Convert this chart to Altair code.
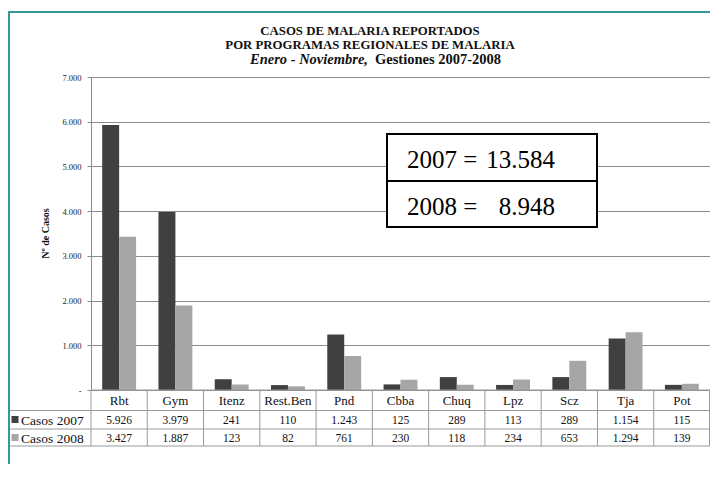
import altair as alt
import pandas as pd

# ---------------- data ----------------
categories = ["Rbt", "Gym", "Itenz", "Rest.Ben", "Pnd", "Cbba", "Chuq", "Lpz", "Scz", "Tja", "Pot"]
casos_2007 = [5926, 3979, 241, 110, 1243, 125, 289, 113, 289, 1154, 115]
casos_2008 = [3427, 1887, 123, 82, 761, 230, 118, 234, 653, 1294, 139]
series = ["Casos 2007", "Casos 2008"]
y_ticks = [0, 1000, 2000, 3000, 4000, 5000, 6000, 7000]
title_line1 = "CASOS DE MALARIA REPORTADOS"
title_line2 = "POR PROGRAMAS REGIONALES DE MALARIA"
title_line3a = "Enero - Noviembre,"
title_line3b = "Gestiones 2007-2008"
y_title = "Nº de Casos"

rows = []
for s, vals in zip(series, [casos_2007, casos_2008]):
    for c, v in zip(categories, vals):
        rows.append({"region": c, "serie": s, "casos": v})
df = pd.DataFrame(rows)
cat_df = pd.DataFrame({"region": categories})
ser_df = pd.DataFrame({"serie": series})

# ---------------- style ----------------
FONT = "'Liberation Serif', 'Times New Roman', Times, serif"
W, H = 619, 313
DARK, LIGHT = "#404040", "#a6a6a6"
GRID = "#8c8c8c"
TABLE = "#9a9a9a"
TEAL = "#339999"
LEFT, TOP = 83, 69

xscale = alt.Scale(domain=categories, paddingInner=0, paddingOuter=0)
xenc = alt.X("region:N", scale=xscale, axis=None)
color = alt.Color("serie:N", scale=alt.Scale(domain=series, range=[DARK, LIGHT]), legend=None)
fmt = "replace(format(datum.casos, ','), ',', '.')"

bars = alt.Chart(df).mark_bar().encode(
    x=xenc,
    xOffset=alt.XOffset("serie:N", scale=alt.Scale(domain=series, paddingOuter=0.66, paddingInner=0)),
    y=alt.Y(
        "casos:Q",
        scale=alt.Scale(domain=[0, 7000], nice=False),
        axis=alt.Axis(
            values=y_ticks,
            labelExpr="datum.value == 0 ? '-\u00a0\u00a0\u00a0\u00a0\u00a0' : replace(format(datum.value, ','), ',', '.')",
            grid=True, gridColor=GRID, gridWidth=1,
            domainColor=GRID, tickColor=GRID, tickSize=4, labelPadding=6,
            labelFont=FONT, labelFontSize=8.5, labelColor="#222222",
            title=y_title, titleFont=FONT, titleFontSize=10, titleFontWeight="bold",
            titleColor="#111111", titleX=-46, titleY=156, titleAngle=270,
            titleBaseline="middle", titleAlign="center",
        ),
    ),
    color=color,
)

# table lines
vlines = alt.Chart(cat_df).mark_rule(color=TABLE, strokeWidth=1).encode(
    x=alt.X("region:N", scale=xscale, axis=None, bandPosition=0),
    y=alt.value(313), y2=alt.value(369),
)
one = pd.DataFrame({"k": [0]})
vright = alt.Chart(one).mark_rule(color=TABLE, strokeWidth=1).encode(
    x=alt.value(W - 0.5), y=alt.value(313), y2=alt.value(369))
hl_axis = alt.Chart(one).mark_rule(color=TABLE, strokeWidth=1).encode(
    x=alt.value(0), x2=alt.value(W), y=alt.value(313))
hl1 = alt.Chart(one).mark_rule(color=TABLE, strokeWidth=1).encode(
    x=alt.value(-83), x2=alt.value(W), y=alt.value(333.5))
hl2 = alt.Chart(one).mark_rule(color=TABLE, strokeWidth=1).encode(
    x=alt.value(-83), x2=alt.value(W), y=alt.value(352))
hl3 = alt.Chart(one).mark_rule(color=TABLE, strokeWidth=1).encode(
    x=alt.value(-83), x2=alt.value(W), y=alt.value(369))

# table texts
header = alt.Chart(cat_df).mark_text(font=FONT, fontSize=13, color="#111111", baseline="middle").encode(
    x=xenc, y=alt.value(324), text="region:N")
row_y = [343.5, 361.5]
val_layers = []
for s, yy in zip(series, row_y):
    val_layers.append(
        alt.Chart(df).transform_filter(alt.datum.serie == s)
        .transform_calculate(label=fmt)
        .mark_text(font=FONT, fontSize=11.5, color="#111111", baseline="middle")
        .encode(x=xenc, y=alt.value(yy), text="label:N")
    )
    val_layers.append(
        alt.Chart(ser_df).transform_filter(alt.datum.serie == s)
        .mark_square(size=49, opacity=1)
        .encode(x=alt.value(-76), y=alt.value(yy - 1), color=color)
    )
    val_layers.append(
        alt.Chart(ser_df).transform_filter(alt.datum.serie == s)
        .mark_text(font=FONT, fontSize=13.5, color="#111111", align="left", baseline="middle")
        .encode(x=alt.value(-70), y=alt.value(yy), text="serie:N")
    )

# totals box
box = alt.Chart(one).mark_rect(fill="white", stroke="black", strokeWidth=2).encode(
    x=alt.value(296), x2=alt.value(506), y=alt.value(57), y2=alt.value(150))
box_mid = alt.Chart(one).mark_rule(color="black", strokeWidth=2).encode(
    x=alt.value(296), x2=alt.value(506), y=alt.value(104))
tot_layers = []
for s, yy in zip(series, [91, 138]):
    agg = (alt.Chart(df).transform_filter(alt.datum.serie == s)
           .transform_aggregate(total="sum(casos)", groupby=["serie"])
           .transform_calculate(label="replace(format(datum.total, ','), ',', '.')",
                                year="slice(datum.serie, 6) + ' ='"))
    tot_layers.append(agg.mark_text(font=FONT, fontSize=25, color="black", align="left",
                                    baseline="alphabetic")
                      .encode(x=alt.value(316), y=alt.value(yy), text="year:N"))
    tot_layers.append(agg.mark_text(font=FONT, fontSize=25, color="black", align="right",
                                    baseline="alphabetic")
                      .encode(x=alt.value(464), y=alt.value(yy), text="label:N"))

# titles
tdf1 = pd.DataFrame({"t": [title_line1]})
tdf2 = pd.DataFrame({"t": [title_line2]})
tdf3a = pd.DataFrame({"t": [title_line3a]})
tdf3b = pd.DataFrame({"t": [title_line3b]})
t1 = alt.Chart(tdf1).mark_text(font=FONT, fontSize=12.8, fontWeight="bold", color="#111111",
                               baseline="middle").encode(x=alt.value(279), y=alt.value(-46), text="t:N")
t2 = alt.Chart(tdf2).mark_text(font=FONT, fontSize=12.8, fontWeight="bold", color="#111111",
                               baseline="middle").encode(x=alt.value(279), y=alt.value(-32), text="t:N")
t3a = alt.Chart(tdf3a).mark_text(font=FONT, fontSize=14.5, fontWeight="bold", fontStyle="italic",
                                 color="#111111", align="right", baseline="middle").encode(
    x=alt.value(277), y=alt.value(-17), text="t:N")
t3b = alt.Chart(tdf3b).mark_text(font=FONT, fontSize=14.5, fontWeight="bold", color="#111111",
                                 align="left", baseline="middle").encode(
    x=alt.value(284), y=alt.value(-17), text="t:N")

# teal frame
frame_top = alt.Chart(one).mark_rule(color=TEAL, strokeWidth=2).encode(
    x=alt.value(-83), x2=alt.value(W), y=alt.value(-65))
frame_left = alt.Chart(one).mark_rule(color=TEAL, strokeWidth=2).encode(
    x=alt.value(-82), y=alt.value(-65), y2=alt.value(400))

chart = alt.layer(
    bars, box, box_mid, *tot_layers,
    vlines, vright, hl_axis, hl1, hl2, hl3, header, *val_layers,
    t1, t2, t3a, t3b, frame_top, frame_left,
).properties(
    width=W, height=H,
    autosize=alt.AutoSizeParams(type="none"),
    padding={"left": LEFT, "top": TOP, "right": 0, "bottom": 74},
    background="white",
).configure_view(stroke="transparent")

chart.save("out.html", embed_options={"renderer": "svg", "actions": False})
